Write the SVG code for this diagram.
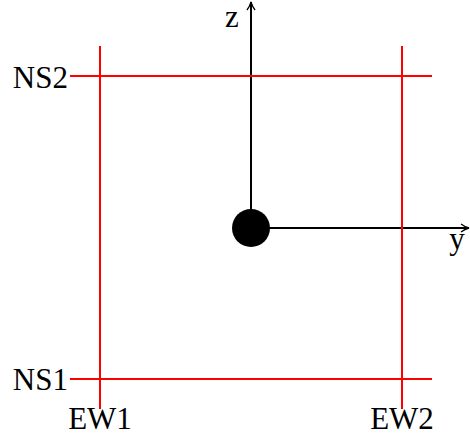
<svg xmlns="http://www.w3.org/2000/svg" width="470" height="436" viewBox="0 0 470 436">
  <style>
    .ax { stroke: #000; stroke-width: 2; fill: none; }
    .rd { stroke: #ff0000; stroke-width: 2; fill: none; }
    text { font-family: "Liberation Serif", "Times New Roman", serif; font-size: 31px; fill: #000; }
  </style>
  <defs>
    <marker id="arr" viewBox="0 0 10 10" refX="9" refY="5" markerWidth="10" markerHeight="10" markerUnits="userSpaceOnUse" orient="auto">
      <path d="M1,1 Q5,4 9,5 Q5,6 1,9" fill="none" stroke="#000" stroke-width="1.3"/>
    </marker>
  </defs>
  <g id="connectors">
    <line id="z-axis" class="ax" x1="251" y1="228" x2="251" y2="2" marker-end="url(#arr)"/>
    <line id="y-axis" class="ax" x1="251" y1="228" x2="469" y2="228" marker-end="url(#arr)"/>
  </g>
  <g id="origin">
    <circle cx="251" cy="228" r="19" fill="#000"/>
  </g>
  <g id="EW1">
    <line class="rd" x1="100" y1="46" x2="100" y2="409"/>
    <text x="100" y="429" text-anchor="middle">EW1</text>
  </g>
  <g id="EW2">
    <line class="rd" x1="402" y1="46" x2="402" y2="409"/>
    <text x="402" y="429" text-anchor="middle">EW2</text>
  </g>
  <g id="NS2">
    <line class="rd" x1="70" y1="76" x2="432" y2="76"/>
    <text x="68" y="88" text-anchor="end">NS2</text>
  </g>
  <g id="NS1">
    <line class="rd" x1="70" y1="379" x2="432" y2="379"/>
    <text x="68" y="390" text-anchor="end">NS1</text>
  </g>
  <g id="labels">
    <text x="232" y="27" text-anchor="middle">z</text>
    <text x="457" y="249" text-anchor="middle">y</text>
  </g>
</svg>
